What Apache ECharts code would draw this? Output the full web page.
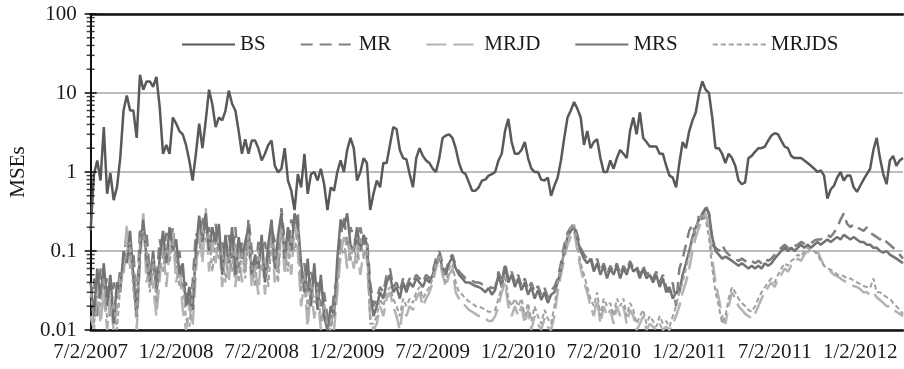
<!DOCTYPE html>
<html>
<head>
<meta charset="utf-8">
<script src="https://cdn.jsdelivr.net/npm/echarts@6/dist/echarts.min.js"></script>
<style>
html, body { margin: 0; padding: 0; background: #fff; }
#chart { width: 904px; height: 369px; }
</style>
</head>
<body>
<div id="chart"></div>
<script>
// x = trading week since 7/2/2007, 26 weeks per half year
var tickLabels = ['7/2/2007', '1/2/2008', '7/2/2008', '1/2/2009', '7/2/2009', '1/2/2010', '7/2/2010', '1/2/2011', '7/2/2011', '1/2/2012'];
var yTicks = [0.01, 0.1, 1, 10, 100];
var yMinorTicks = [0.02, 0.03, 0.04, 0.05, 0.06, 0.07, 0.08, 0.09,
    0.2, 0.3, 0.4, 0.5, 0.6, 0.7, 0.8, 0.9,
    2, 3, 4, 5, 6, 7, 8, 9,
    20, 30, 40, 50, 60, 70, 80, 90];

// one value per week, ten per row
var bs = [0.18, 0.93, 1.4, 0.78, 3.7, 0.53, 0.97, 0.44, 0.64, 1.5,
    6, 9.3, 6, 6, 2.7, 17, 11, 14, 14, 12,
    16, 6.6, 1.7, 2.2, 1.7, 4.9, 4.1, 3.3, 3.0, 2.2,
    1.4, 0.78, 1.7, 4.1, 2.0, 4.5, 11, 7.2, 3.7, 4.9,
    4.5, 6, 10.7, 7.3, 6, 3.3, 1.7, 2.6, 1.7, 2.5,
    2.5, 2.0, 1.4, 1.7, 2.2, 2.5, 1.2, 0.99, 1.1, 2.0,
    0.78, 0.58, 0.33, 0.94, 0.64, 1.7, 0.53, 0.94, 1.0, 0.78,
    1.1, 0.7, 0.33, 0.64, 0.58, 1.0, 1.4, 1.0, 1.9, 2.7,
    2.0, 0.78, 1.0, 1.5, 1.3, 0.33, 0.53, 0.78, 0.64, 1.3,
    1.3, 2.2, 3.7, 3.5, 1.9, 1.5, 1.45, 0.94, 0.64, 1.5,
    2.0, 1.6, 1.4, 1.3, 1.1, 1.0, 1.5, 2.7, 2.9, 3.0,
    2.7, 2.0, 1.3, 1.0, 0.94, 0.74, 0.58, 0.58, 0.64, 0.78,
    0.8, 0.9, 0.94, 1.0, 1.4, 1.7, 3.3, 4.7, 2.4, 1.7,
    1.7, 1.9, 2.4, 1.5, 1.1, 1.0, 1.0, 0.8, 0.78, 0.85,
    0.5, 0.67, 0.85, 1.4, 2.7, 4.9, 6, 7.7, 6.3, 4.9,
    2.2, 3.3, 2.0, 2.4, 2.6, 1.5, 1.0, 1.0, 1.4, 1.1,
    1.5, 1.9, 1.7, 1.5, 3.3, 4.9, 3.0, 5.7, 2.7, 2.4,
    2.1, 2.1, 2.1, 1.7, 1.7, 1.2, 0.9, 0.85, 0.64, 1.3,
    2.4, 2.0, 3.3, 4.5, 5.7, 10, 14, 11, 10, 4.9,
    2.0, 2.0, 1.7, 1.3, 1.7, 1.5, 1.2, 0.78, 0.7, 0.74,
    1.5, 1.6, 1.8, 2.0, 2.0, 2.1, 2.5, 2.9, 3.1, 3.0,
    2.5, 2.1, 2.0, 1.6, 1.5, 1.5, 1.5, 1.4, 1.3, 1.2,
    1.1, 1.0, 1.05, 0.9, 0.46, 0.6, 0.67, 0.85, 1.0, 0.78,
    0.9, 0.9, 0.64, 0.56, 0.67, 0.8, 0.94, 1.1, 1.9, 2.7,
    1.5, 0.94, 0.7, 1.4, 1.6, 1.2, 1.4, 1.5];

var mr = [0.025, 0.045, 0.015, 0.06, 0.03, 0.045, 0.015, 0.04, 0.025, 0.06,
    0.07, 0.18, 0.08, 0.1, 0.02, 0.2, 0.14, 0.17, 0.05, 0.07,
    0.04, 0.14, 0.08, 0.17, 0.1, 0.2, 0.07, 0.1, 0.035, 0.04,
    0.018, 0.04, 0.17, 0.13, 0.28, 0.16, 0.2, 0.1, 0.22, 0.1,
    0.13, 0.08, 0.16, 0.08, 0.2, 0.06, 0.13, 0.06, 0.26, 0.1,
    0.05, 0.13, 0.08, 0.13, 0.06, 0.2, 0.13, 0.06, 0.35, 0.13,
    0.1, 0.25, 0.17, 0.3, 0.035, 0.07, 0.028, 0.055, 0.035, 0.04,
    0.02, 0.03, 0.014, 0.011, 0.03, 0.045, 0.15, 0.28, 0.12, 0.2,
    0.15, 0.12, 0.2, 0.12, 0.15, 0.04, 0.02, 0.025, 0.035, 0.03,
    0.05, 0.06, 0.035, 0.04, 0.03, 0.045, 0.035, 0.045, 0.04, 0.05,
    0.045, 0.04, 0.05, 0.045, 0.055, 0.08, 0.1, 0.07, 0.055, 0.08,
    0.09, 0.065, 0.055, 0.05, 0.045, 0.045, 0.042, 0.04, 0.04, 0.038,
    0.037, 0.036, 0.034, 0.034, 0.055, 0.04, 0.07, 0.045, 0.055, 0.04,
    0.05, 0.036, 0.045, 0.032, 0.04, 0.03, 0.036, 0.028, 0.034, 0.026,
    0.032, 0.035, 0.045, 0.07, 0.12, 0.17, 0.2, 0.22, 0.16, 0.11,
    0.09, 0.08, 0.085, 0.06, 0.08, 0.055, 0.07, 0.05, 0.065, 0.055,
    0.07, 0.05, 0.065, 0.055, 0.075, 0.06, 0.065, 0.05, 0.065, 0.05,
    0.055, 0.045, 0.055, 0.04, 0.05, 0.035, 0.03, 0.04, 0.02, 0.06,
    0.08, 0.12, 0.18, 0.22, 0.15, 0.3, 0.25, 0.38, 0.3, 0.12,
    0.11, 0.1, 0.12, 0.1, 0.09, 0.085, 0.08, 0.075, 0.08, 0.075,
    0.07, 0.075, 0.07, 0.075, 0.07, 0.08, 0.075, 0.08, 0.09, 0.1,
    0.11, 0.12, 0.11, 0.12, 0.115, 0.12, 0.13, 0.125, 0.13, 0.125,
    0.135, 0.14, 0.14, 0.15, 0.16, 0.15, 0.17, 0.2, 0.25, 0.3,
    0.22, 0.2, 0.22, 0.2, 0.19, 0.18, 0.2, 0.17, 0.16, 0.15,
    0.14, 0.15, 0.13, 0.12, 0.11, 0.1, 0.09, 0.08];

var mrjd = [0.015, 0.01, 0.04, 0.012, 0.03, 0.01, 0.025, 0.01, 0.02, 0.045,
    0.045, 0.22, 0.06, 0.07, 0.01, 0.07, 0.3, 0.04, 0.07, 0.035,
    0.015, 0.045, 0.13, 0.035, 0.1, 0.17, 0.04, 0.07, 0.018, 0.01,
    0.02, 0.011, 0.055, 0.2, 0.07, 0.35, 0.055, 0.13, 0.07, 0.17,
    0.035, 0.1, 0.04, 0.13, 0.035, 0.1, 0.04, 0.08, 0.13, 0.035,
    0.065, 0.028, 0.12, 0.028, 0.1, 0.17, 0.04, 0.1, 0.25, 0.05,
    0.13, 0.05, 0.22, 0.1, 0.02, 0.04, 0.011, 0.035, 0.014, 0.028,
    0.01, 0.018, 0.01, 0.014, 0.01, 0.03, 0.09, 0.15, 0.06, 0.11,
    0.06, 0.12, 0.05, 0.1, 0.08, 0.015, 0.01, 0.012, 0.02, 0.015,
    0.025, 0.03, 0.02, 0.015, 0.01, 0.02, 0.015, 0.02, 0.018, 0.025,
    0.03, 0.02, 0.025, 0.03, 0.04, 0.06, 0.08, 0.05, 0.035, 0.05,
    0.06, 0.03, 0.025, 0.022, 0.02, 0.018, 0.017, 0.016, 0.015, 0.015,
    0.014, 0.013, 0.013, 0.015, 0.02, 0.03, 0.04, 0.02, 0.015, 0.02,
    0.015, 0.02, 0.012, 0.018, 0.01, 0.015, 0.012, 0.01, 0.014, 0.011,
    0.01, 0.015, 0.03, 0.05, 0.08, 0.12, 0.15, 0.18, 0.1, 0.06,
    0.04, 0.03, 0.02, 0.015, 0.025, 0.012, 0.02, 0.015, 0.018, 0.012,
    0.02, 0.015, 0.02, 0.012, 0.018, 0.015, 0.01, 0.012, 0.015, 0.01,
    0.012, 0.011, 0.01, 0.012, 0.01, 0.011, 0.01, 0.012, 0.015, 0.02,
    0.03, 0.04, 0.06, 0.1, 0.15, 0.2, 0.25, 0.3, 0.2, 0.08,
    0.04, 0.025, 0.015, 0.012, 0.02, 0.03, 0.025, 0.02, 0.018, 0.016,
    0.015, 0.014, 0.016, 0.02, 0.025, 0.03, 0.035, 0.04, 0.035, 0.045,
    0.05, 0.06, 0.055, 0.065, 0.07, 0.08, 0.075, 0.09, 0.1, 0.09,
    0.095, 0.1, 0.08, 0.065, 0.06, 0.055, 0.05, 0.048, 0.045, 0.042,
    0.04, 0.038, 0.036, 0.035, 0.033, 0.03, 0.03, 0.028, 0.03, 0.026,
    0.024, 0.022, 0.02, 0.02, 0.018, 0.017, 0.016, 0.015];

var mrs = [0.04, 0.015, 0.06, 0.025, 0.07, 0.02, 0.05, 0.012, 0.04, 0.03,
    0.1, 0.07, 0.18, 0.045, 0.015, 0.1, 0.25, 0.08, 0.04, 0.1,
    0.03, 0.08, 0.18, 0.07, 0.2, 0.1, 0.14, 0.05, 0.07, 0.02,
    0.035, 0.018, 0.1, 0.28, 0.13, 0.3, 0.1, 0.2, 0.13, 0.22,
    0.05, 0.16, 0.07, 0.2, 0.05, 0.15, 0.08, 0.13, 0.2, 0.05,
    0.09, 0.06, 0.16, 0.04, 0.12, 0.25, 0.06, 0.16, 0.3, 0.08,
    0.2, 0.1, 0.3, 0.22, 0.07, 0.03, 0.08, 0.02, 0.07, 0.018,
    0.05, 0.015, 0.01, 0.02, 0.015, 0.08, 0.25, 0.2, 0.3, 0.12,
    0.1, 0.2, 0.1, 0.16, 0.12, 0.03, 0.015, 0.02, 0.03, 0.025,
    0.04, 0.05, 0.03, 0.035, 0.025, 0.04, 0.03, 0.04, 0.035, 0.045,
    0.04, 0.035, 0.045, 0.04, 0.05, 0.07, 0.09, 0.06, 0.05, 0.07,
    0.085, 0.06, 0.05, 0.045, 0.04, 0.04, 0.038, 0.036, 0.035, 0.033,
    0.03, 0.034, 0.028, 0.032, 0.05, 0.035, 0.065, 0.04, 0.05, 0.035,
    0.045, 0.032, 0.04, 0.028, 0.035, 0.025, 0.032, 0.024, 0.03, 0.022,
    0.028, 0.03, 0.04, 0.06, 0.1, 0.15, 0.18, 0.2, 0.14, 0.1,
    0.08, 0.07, 0.08, 0.055, 0.07, 0.05, 0.065, 0.045, 0.06, 0.05,
    0.065, 0.045, 0.06, 0.05, 0.07, 0.055, 0.06, 0.045, 0.06, 0.045,
    0.05, 0.04, 0.05, 0.035, 0.045, 0.03, 0.035, 0.025, 0.03, 0.03,
    0.05, 0.07, 0.1, 0.15, 0.2, 0.25, 0.3, 0.35, 0.3, 0.15,
    0.1, 0.09, 0.08, 0.085, 0.08, 0.075, 0.07, 0.065, 0.07, 0.065,
    0.06, 0.065, 0.06, 0.065, 0.06, 0.07, 0.065, 0.07, 0.08, 0.09,
    0.1, 0.11, 0.1, 0.11, 0.1, 0.11, 0.12, 0.11, 0.12, 0.11,
    0.12, 0.13, 0.12, 0.13, 0.14, 0.13, 0.14, 0.15, 0.14, 0.16,
    0.15, 0.14, 0.15, 0.14, 0.13, 0.13, 0.12, 0.12, 0.11, 0.11,
    0.1, 0.095, 0.1, 0.09, 0.085, 0.08, 0.075, 0.07];

var mrjds = [0.03, 0.012, 0.022, 0.02, 0.045, 0.014, 0.016, 0.022, 0.01, 0.035,
    0.06, 0.1, 0.13, 0.03, 0.015, 0.14, 0.18, 0.1, 0.03, 0.08,
    0.022, 0.07, 0.055, 0.12, 0.07, 0.14, 0.08, 0.035, 0.04, 0.014,
    0.011, 0.03, 0.08, 0.1, 0.2, 0.13, 0.17, 0.055, 0.13, 0.08,
    0.1, 0.04, 0.1, 0.055, 0.13, 0.04, 0.1, 0.045, 0.17, 0.065,
    0.035, 0.1, 0.055, 0.08, 0.035, 0.13, 0.1, 0.04, 0.2, 0.1,
    0.055, 0.17, 0.1, 0.18, 0.03, 0.055, 0.018, 0.04, 0.022, 0.035,
    0.013, 0.022, 0.011, 0.01, 0.018, 0.035, 0.11, 0.09, 0.15, 0.075,
    0.12, 0.07, 0.15, 0.08, 0.12, 0.012, 0.012, 0.015, 0.025, 0.02,
    0.03, 0.035, 0.025, 0.02, 0.015, 0.025, 0.02, 0.025, 0.022, 0.03,
    0.035, 0.025, 0.03, 0.035, 0.045, 0.07, 0.09, 0.06, 0.04, 0.06,
    0.07, 0.04, 0.03, 0.028, 0.025, 0.023, 0.022, 0.02, 0.02, 0.019,
    0.018, 0.017, 0.017, 0.018, 0.025, 0.035, 0.05, 0.025, 0.02, 0.025,
    0.02, 0.025, 0.015, 0.022, 0.013, 0.02, 0.015, 0.012, 0.018, 0.014,
    0.012, 0.02, 0.04, 0.06, 0.1, 0.15, 0.2, 0.22, 0.12, 0.07,
    0.05, 0.035, 0.025, 0.02, 0.03, 0.015, 0.025, 0.02, 0.022, 0.015,
    0.025, 0.02, 0.025, 0.015, 0.022, 0.018, 0.012, 0.015, 0.018, 0.012,
    0.015, 0.013, 0.011, 0.015, 0.012, 0.013, 0.011, 0.015, 0.02, 0.03,
    0.04, 0.06, 0.09, 0.14, 0.2, 0.25, 0.3, 0.25, 0.15, 0.06,
    0.03, 0.02, 0.012, 0.015, 0.025, 0.035, 0.03, 0.025, 0.022, 0.02,
    0.018, 0.017, 0.02, 0.025, 0.03, 0.035, 0.04, 0.045, 0.04, 0.05,
    0.06, 0.07, 0.065, 0.075, 0.08, 0.09, 0.085, 0.1, 0.11, 0.1,
    0.1, 0.09, 0.075, 0.065, 0.06, 0.058, 0.055, 0.05, 0.05, 0.048,
    0.045, 0.045, 0.042, 0.04, 0.038, 0.036, 0.035, 0.034, 0.045, 0.03,
    0.03, 0.028, 0.026, 0.025, 0.022, 0.02, 0.018, 0.016];

function pairs(arr) {
    return arr.map(function (v, i) { return [i, v]; });
}

var font = 'Liberation Serif';
var lastWeek = bs.length - 1;
var myChart = echarts.init(document.getElementById('chart'));

var option = {
    animation: false,
    backgroundColor: '#fff',
    textStyle: { fontFamily: font },
    grid: { left: 89, right: 1, top: 14, bottom: 39 },
    legend: {
        left: 176,
        top: 29,
        itemWidth: 53,
        itemHeight: 14,
        itemGap: 34,
        itemStyle: { color: 'transparent', borderColor: 'transparent', borderWidth: 0 },
        textStyle: { fontFamily: font, fontSize: 21, color: '#1a1a1a' },
        data: ['BS', 'MR', 'MRJD', 'MRS', 'MRJDS']
    },
    xAxis: [
        {
            type: 'value',
            min: 0,
            max: lastWeek,
            interval: 26,
            axisLine: { lineStyle: { color: '#111', width: 2.5 } },
            axisTick: { show: false },
            splitLine: { show: false },
            axisLabel: {
                margin: 12,
                fontFamily: font,
                fontSize: 21,
                color: '#1a1a1a',
                showMaxLabel: false,
                formatter: function (v) {
                    if (v % 26 !== 0) return '';
                    return tickLabels[v / 26] || '';
                }
            }
        },
        {
            type: 'value',
            position: 'top',
            min: 0,
            max: lastWeek,
            axisLine: { onZero: false, lineStyle: { color: '#111', width: 2.5 } },
            axisTick: { show: false },
            axisLabel: { show: false },
            splitLine: { show: false }
        }
    ],
    yAxis: {
        type: 'log',
        logBase: 10,
        min: yTicks[0],
        max: yTicks[yTicks.length - 1],
        name: 'MSEs',
        nameLocation: 'middle',
        nameGap: 60,
        nameTextStyle: { fontFamily: font, fontSize: 21, color: '#1a1a1a' },
        axisLine: { lineStyle: { color: '#111', width: 2 } },
        axisTick: { show: false },
        axisLabel: {
            margin: 14,
            fontFamily: font,
            fontSize: 21,
            color: '#1a1a1a',
            formatter: function (v) { return String(v); }
        },
        splitLine: { lineStyle: { color: '#a6a6a6', width: 1.5 } }
    },
    series: [
        {
            name: 'BS', type: 'line', showSymbol: false, symbol: 'none',
            lineStyle: { color: '#595959', width: 2.5 },
            itemStyle: { color: '#595959' },
            data: pairs(bs)
        },
        {
            name: 'MR', type: 'line', showSymbol: false, symbol: 'none',
            lineStyle: { color: '#808080', width: 2.5, type: [12, 7] },
            itemStyle: { color: '#808080' },
            data: pairs(mr)
        },
        {
            name: 'MRJD', type: 'line', showSymbol: false, symbol: 'none',
            lineStyle: { color: '#b3b3b3', width: 2.5, type: [20, 7] },
            itemStyle: { color: '#b3b3b3' },
            data: pairs(mrjd)
        },
        {
            name: 'MRS', type: 'line', showSymbol: false, symbol: 'none',
            lineStyle: { color: '#737373', width: 2.5 },
            itemStyle: { color: '#737373' },
            data: pairs(mrs)
        },
        {
            name: 'MRJDS', type: 'line', showSymbol: false, symbol: 'none',
            lineStyle: { color: '#a0a0a0', width: 2, type: [5, 3] },
            itemStyle: { color: '#a0a0a0' },
            data: pairs(mrjds)
        },
        {
            // y axis tick marks, crossing the axis line
            type: 'scatter', silent: true, clip: false, symbol: 'rect', z: 5,
            symbolSize: [12, 2], itemStyle: { color: '#111' },
            data: yTicks.map(function (v) { return [0, v]; })
        },
        {
            type: 'scatter', silent: true, clip: false, symbol: 'rect', z: 5,
            symbolSize: [8, 1.5], itemStyle: { color: '#111' },
            data: yMinorTicks.map(function (v) { return [0, v]; })
        }
    ]
};
myChart.setOption(option);
</script>
</body>
</html>
